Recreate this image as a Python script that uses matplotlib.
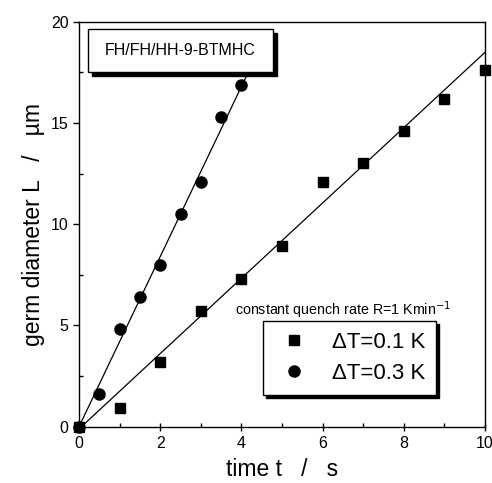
import numpy as np
import matplotlib.pyplot as plt
from matplotlib.patches import Rectangle

plt.rcParams['font.family'] = ['Liberation Sans', 'DejaVu Sans']

# dT = 0.1 K (squares)
t_01 = [0, 1, 2, 3, 4, 5, 6, 7, 8, 9, 10]
L_01 = [0, 0.9, 3.2, 5.7, 7.3, 8.9, 12.1, 13.0, 14.6, 16.2, 17.6]

# dT = 0.3 K (circles)
t_03 = [0, 0.5, 1, 1.5, 2, 2.5, 3, 3.5, 4]
L_03 = [0, 1.6, 4.8, 6.4, 8.0, 10.5, 12.1, 15.3, 16.9]

# linear fits (slope, intercept, t range)
fit_01 = (1.86, -0.11, [0, 10])
fit_03 = (4.2, 0.0, [0, 4.4])

legend_labels = ['ΔT=0.1 K', 'ΔT=0.3 K']

fig = plt.figure(figsize=(4.92, 4.83), dpi=100)
ax = fig.add_axes([0.1606, 0.1166, 0.8252, 0.8384])

for slope, icpt, trange in (fit_01, fit_03):
    tt = np.array(trange)
    ax.plot(tt, slope * tt + icpt, color='black', lw=0.9, zorder=2)

ax.plot(t_01, L_01, 's', color='black', ms=7, label=legend_labels[0], zorder=3, clip_on=False)
ax.plot(t_03, L_03, 'o', color='black', ms=8, label=legend_labels[1], zorder=3, clip_on=False)

ax.set_xlim(0, 10)
ax.set_ylim(0, 20)
ax.set_xticks([0, 2, 4, 6, 8, 10])
ax.set_xticks([1, 3, 5, 7, 9], minor=True)
ax.set_yticks([0, 5, 10, 15, 20])
ax.set_yticks([2.5, 7.5, 12.5, 17.5], minor=True)
ax.tick_params(axis='x', which='major', direction='inout', length=6, width=1, labelsize=11.5, pad=4)
ax.tick_params(axis='x', which='minor', direction='in', length=3, width=1)
ax.tick_params(axis='y', which='major', direction='out', length=4, width=1, labelsize=11.5)
ax.tick_params(axis='y', which='minor', direction='in', length=3, width=1)
for s in ax.spines.values():
    s.set_linewidth(1.0)

ax.set_xlabel('time t   /   s', fontsize=16.5, labelpad=5)
ax.set_ylabel('germ diameter L   /   µm', fontsize=16.5, labelpad=4)

# sample name box with shadow
bx, by, bw, bh = 0.022, 0.876, 0.456, 0.106
ax.add_patch(Rectangle((bx + 0.009, by - 0.010), bw, bh, transform=ax.transAxes,
                       facecolor='black', edgecolor='black', zorder=4))
ax.add_patch(Rectangle((bx, by), bw, bh, transform=ax.transAxes,
                       facecolor='white', edgecolor='black', lw=1, zorder=5))
ax.text(bx + bw / 2, by + bh / 2, 'FH/FH/HH-9-BTMHC', transform=ax.transAxes,
        ha='center', va='center', fontsize=11.5, zorder=6)

ax.text(0.385, 0.275, 'constant quench rate R=1 Kmin$^{-1}$', transform=ax.transAxes,
        fontsize=10.3, ha='left', va='baseline')

leg = ax.legend(loc='lower left', bbox_to_anchor=(0.453, 0.078), fontsize=16,
                frameon=True, fancybox=False, edgecolor='black', framealpha=1,
                shadow={'color': 'black', 'alpha': 1}, handletextpad=0.8,
                handlelength=1.8, borderpad=0.5, labelspacing=0.45, borderaxespad=0)
leg.get_frame().set_linewidth(1.0)

fig.savefig('out.png', dpi=100)
